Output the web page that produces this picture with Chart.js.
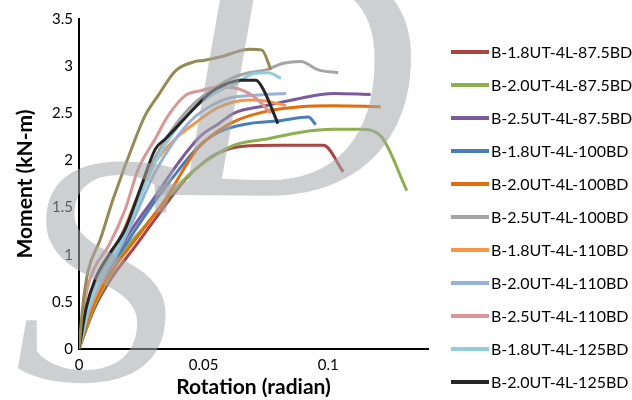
<!DOCTYPE html>
<html>
<head>
<meta charset="utf-8">
<script src="https://cdn.jsdelivr.net/npm/chart.js@4/dist/chart.umd.min.js"></script>
<style>
  html, body { margin: 0; padding: 0; background: #fff; }
  #wrap { position: relative; width: 632px; height: 400px; overflow: hidden; font-family: Lato, "Liberation Sans", sans-serif; }
  #chartCanvas { position: absolute; left: 0; top: 0; }
  #legend { position: absolute; left: 450px; top: 0; }
  .leg-item { position: absolute; left: 0; height: 20px; white-space: nowrap; font-size: 16px; color: #000; }
  .leg-line { position: absolute; left: 1px; top: 8px; width: 38px; height: 4px; }
  .leg-text { position: absolute; left: 41px; top: 0; line-height: 20px; }
  .mark { position: absolute; font-family: "Liberation Serif", "DejaVu Serif", serif; font-style: italic;
          line-height: 1; color: rgba(165, 167, 172, 0.55); white-space: nowrap; pointer-events: none; }
  #markS { left: 14px; top: 104px; font-size: 330px; }
  #markD { left: 160px; top: -102px; font-size: 355px; }
</style>
</head>
<body>
<div id="wrap">
  <canvas id="chartCanvas" width="632" height="400"></canvas>
  <div class="mark" id="markS">S</div>
  <div class="mark" id="markD">D</div>
  <div id="legend"></div>
</div>
<script>
(function() {

  // series names, in legend order (the last one is not shown in the legend)
  var seriesNames = [
    'B-1.8UT-4L-87.5BD', 'B-2.0UT-4L-87.5BD', 'B-2.5UT-4L-87.5BD',
    'B-1.8UT-4L-100BD', 'B-2.0UT-4L-100BD', 'B-2.5UT-4L-100BD',
    'B-1.8UT-4L-110BD', 'B-2.0UT-4L-110BD', 'B-2.5UT-4L-110BD',
    'B-1.8UT-4L-125BD', 'B-2.0UT-4L-125BD', 'B-2.5UT-4L-125BD'
  ];
  var seriesColors = [
    '#AB4543', '#8DB04E', '#7A5C9C',
    '#4A7EBB', '#E46C0A', '#A5A5A5',
    '#F79646', '#95B3D7', '#D99694',
    '#93CDDD', '#262626', '#948A54'
  ];
  var legendCount = 11;

  // rotation (radian) and moment (kN-m)
  var rot1 = [0, 0.006, 0.013, 0.0226, 0.0306, 0.0427, 0.05, 0.056, 0.066, 0.08, 0.098, 0.106];
  var mom1 = [0, 0.42, 0.75, 1.09, 1.38, 1.8, 1.98, 2.08, 2.15, 2.16, 2.16, 1.88];

  var rot2 = [0, 0.006, 0.012, 0.0185, 0.0254, 0.0387, 0.0468, 0.062, 0.0758, 0.089, 0.102, 0.113, 0.121, 0.1315];
  var mom2 = [0, 0.45, 0.75, 1.06, 1.27, 1.7, 1.91, 2.16, 2.23, 2.3, 2.33, 2.33, 2.26, 1.68];

  var rot3 = [0, 0.005, 0.01, 0.0185, 0.0306, 0.04, 0.0488, 0.056, 0.062, 0.075, 0.089, 0.102, 0.117];
  var mom3 = [0, 0.45, 0.75, 1.16, 1.62, 1.98, 2.26, 2.39, 2.5, 2.58, 2.66, 2.71, 2.7];

  var rot4 = [0, 0.004, 0.01, 0.0185, 0.03, 0.04, 0.048, 0.056, 0.068, 0.08, 0.092, 0.095];
  var mom4 = [0, 0.4, 0.75, 1.1, 1.55, 1.9, 2.15, 2.3, 2.39, 2.42, 2.46, 2.38];

  var rot5 = [0, 0.005, 0.012, 0.0226, 0.0347, 0.0468, 0.055, 0.062, 0.075, 0.089, 0.102, 0.121];
  var mom5 = [0, 0.42, 0.78, 1.16, 1.59, 2.1, 2.3, 2.41, 2.52, 2.57, 2.58, 2.57];

  var rot6 = [0, 0.004, 0.008, 0.015, 0.022, 0.03, 0.038, 0.046, 0.055, 0.062, 0.068, 0.075, 0.082, 0.089, 0.096, 0.104];
  var mom6 = [0, 0.5, 0.75, 1.1, 1.5, 2.0, 2.35, 2.6, 2.78, 2.88, 2.93, 2.96, 3.03, 3.05, 2.96, 2.93];

  var rot7 = [0, 0.004, 0.009, 0.015, 0.0226, 0.0306, 0.0387, 0.0468, 0.055, 0.064, 0.07, 0.077, 0.083];
  var mom7 = [0, 0.4, 0.7, 1.05, 1.56, 1.98, 2.23, 2.4, 2.55, 2.63, 2.64, 2.62, 2.58];

  var rot8 = [0, 0.004, 0.008, 0.015, 0.022, 0.03, 0.038, 0.046, 0.053, 0.06, 0.07, 0.083];
  var mom8 = [0, 0.42, 0.68, 1.0, 1.38, 1.85, 2.2, 2.45, 2.58, 2.66, 2.69, 2.71];

  var rot9 = [0, 0.003, 0.006, 0.012, 0.0185, 0.0238, 0.0306, 0.0359, 0.0427, 0.0488, 0.056, 0.062, 0.07, 0.077];
  var mom9 = [0, 0.6, 0.85, 1.1, 1.48, 1.91, 2.23, 2.48, 2.69, 2.74, 2.78, 2.77, 2.68, 2.5];

  var rot10 = [0, 0.004, 0.008, 0.015, 0.022, 0.03, 0.038, 0.046, 0.055, 0.063, 0.07, 0.076, 0.081];
  var mom10 = [0, 0.45, 0.72, 1.05, 1.45, 1.95, 2.3, 2.55, 2.72, 2.82, 2.92, 2.93, 2.87];

  var rot11 = [0, 0.003, 0.0065, 0.012, 0.0185, 0.0246, 0.0306, 0.0347, 0.0387, 0.0468, 0.0528, 0.058, 0.065, 0.071, 0.0738, 0.0798];
  var mom11 = [0, 0.45, 0.74, 1.0, 1.27, 1.7, 2.12, 2.23, 2.34, 2.57, 2.72, 2.8, 2.85, 2.85, 2.76, 2.39];

  var rot12 = [0, 0.0015, 0.0036, 0.0085, 0.0137, 0.0226, 0.0266, 0.0318, 0.0387, 0.0468, 0.05, 0.057, 0.0685, 0.0734, 0.077];
  var mom12 = [0, 0.45, 0.82, 1.16, 1.59, 2.23, 2.48, 2.69, 2.95, 3.05, 3.06, 3.1, 3.18, 3.17, 2.96];

  var rotations = [rot1, rot2, rot3, rot4, rot5, rot6, rot7, rot8, rot9, rot10, rot11, rot12];
  var moments = [mom1, mom2, mom3, mom4, mom5, mom6, mom7, mom8, mom9, mom10, mom11, mom12];

  var xTicks = [0, 0.05, 0.1];
  var yTicks = [0, 0.5, 1, 1.5, 2, 2.5, 3, 3.5];

  var fontFamily = 'Lato, "Liberation Sans", sans-serif';

  function buildDatasets() {
    var sets = [];
    for (var i = 0; i < seriesNames.length; i++) {
      var pts = [];
      for (var j = 0; j < rotations[i].length; j++) {
        pts.push({ x: rotations[i][j], y: moments[i][j] });
      }
      sets.push({
        label: seriesNames[i],
        data: pts,
        borderColor: seriesColors[i],
        backgroundColor: seriesColors[i],
        borderWidth: 3,
        pointRadius: 0,
        cubicInterpolationMode: 'monotone',
        fill: false,
        order: seriesNames.length - i   // later series drawn on top, like the original
      });
    }
    return sets;
  }

  function buildLegend() {
    var box = document.getElementById('legend');
    for (var i = 0; i < legendCount; i++) {
      var item = document.createElement('div');
      item.className = 'leg-item';
      item.style.top = (52 + i * 33 - 10) + 'px';
      var line = document.createElement('div');
      line.className = 'leg-line';
      line.style.background = seriesColors[i];
      var txt = document.createElement('div');
      txt.className = 'leg-text';
      txt.textContent = seriesNames[i];
      item.appendChild(line);
      item.appendChild(txt);
      box.appendChild(item);
    }
  }

  function keepTicks(list) {
    return function(scale) {
      scale.ticks = list.map(function(v) { return { value: v }; });
    };
  }

  function plainLabel(value) {
    return String(value);
  }

  var ctx = document.getElementById('chartCanvas');
  new Chart(ctx, {
    type: 'line',
    data: { datasets: buildDatasets() },
    options: {
      responsive: false,
      animation: false,
      events: [],
      layout: { padding: { left: 0, right: 204, top: 19, bottom: 0 } },
      plugins: { legend: { display: false }, tooltip: { enabled: false } },
      scales: {
        x: {
          type: 'linear',
          min: 0,
          max: 0.14,
          afterBuildTicks: keepTicks(xTicks),
          afterFit: function(scale) { scale.height = 51; },
          grid: { display: false, drawTicks: false },
          border: { display: true, color: '#000', width: 2 },
          ticks: { color: '#000', padding: 7, callback: plainLabel, font: { family: fontFamily, size: 15 } },
          title: {
            display: true,
            text: 'Rotation (radian)',
            color: '#000',
            padding: { top: 0, bottom: 0 },
            font: { family: fontFamily, size: 21, weight: 'bold' }
          }
        },
        y: {
          type: 'linear',
          min: 0,
          max: 3.5,
          afterBuildTicks: keepTicks(yTicks),
          afterFit: function(scale) { scale.width = 79; },
          grid: { display: false, drawTicks: false },
          border: { display: true, color: '#000', width: 2 },
          ticks: { color: '#000', padding: 6, callback: plainLabel, font: { family: fontFamily, size: 15 } },
          title: {
            display: true,
            text: 'Moment (kN-m)',
            color: '#000',
            padding: { top: 13, bottom: 0 },
            font: { family: fontFamily, size: 21, weight: 'bold' }
          }
        }
      }
    }
  });

  buildLegend();

})();
</script>
</body>
</html>
